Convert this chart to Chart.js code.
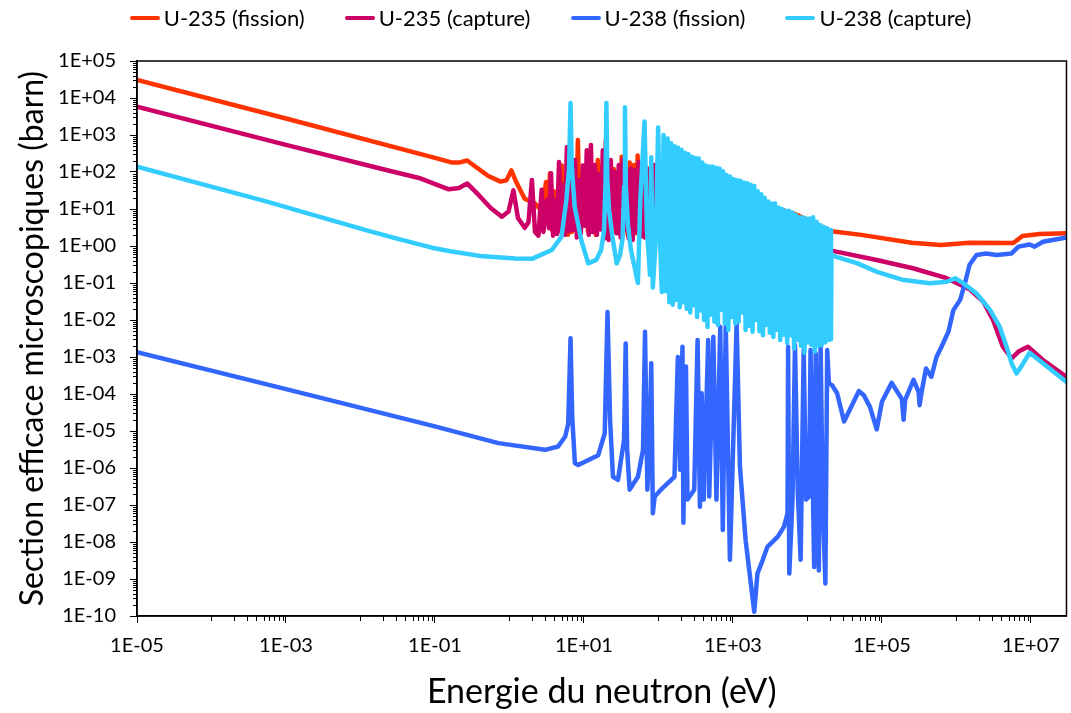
<!DOCTYPE html>
<html>
<head>
<meta charset="utf-8">
<script src="https://cdn.jsdelivr.net/npm/chart.js@4/dist/chart.umd.min.js"></script>
<style>
  html, body { margin: 0; padding: 0; background: #fff; }
  #wrap { position: relative; width: 1071px; height: 713px; }
  #legend {
    position: absolute; top: 6px; left: 0; width: 1071px; padding-left: 30px; box-sizing: border-box;
    display: flex; justify-content: center; gap: 40px;
    font-family: Lato, "Open Sans", sans-serif; font-size: 22px; color: #000; line-height: 24px;
  }
  .lg-item { display: flex; align-items: center; }
  .lg-swatch { width: 30px; height: 4px; border-radius: 2px; margin-right: 4px; }
</style>
</head>
<body>
<div id="wrap">
  <canvas id="chart" width="1071" height="713"></canvas>
  <div id="legend"></div>
</div>
<script>
// [energie (eV), section efficace (barn)]
const U235_FISSION = [
  [1e-5, 3.1e4], [1e-3, 2.8e3], [0.1, 240], [0.17, 180], [0.21, 180], [0.27, 205], [0.34, 145],
  [0.52, 78], [0.76, 55], [0.91, 60], [1.06, 110], [1.2, 60], [1.6, 19], [2.2, 14], [2.7, 8.8],
  [3.1, 54], [3.29, 6.9], [3.5, 93], [3.72, 2.7], [3.96, 30], [4.21, 3.1], [4.48, 17.5], [4.76, 2.5],
  [5.06, 150], [5.38, 3.1], [5.72, 33], [6.09, 2.0], [6.47, 83], [6.88, 2.4], [7.32, 110], [7.78, 2.7],
  [8.28, 730], [8.8, 2.7], [9.36, 90], [9.96, 3.7], [10.6, 155], [11.3, 2.5], [12.0, 200], [12.7, 3.1],
  [13.5, 113], [14.4, 2.0], [15.3, 210], [16.3, 3.1], [17.3, 140], [18.4, 2.7], [19.6, 730], [20.8, 2.7],
  [22.2, 155], [23.6, 3.7], [25.1, 120], [26.7, 2.4], [28.4, 83], [30.2, 3.1], [32.1, 260], [34.1, 2.6],
  [36.3, 113], [38.6, 2.0], [41.0, 180], [43.6, 2.7], [46.4, 155], [49.3, 2.2], [52.5, 280], [55.8, 3.7],
  [59.3, 140], [63.1, 3.1], [67.1, 113], [71.4, 2.7], [75.9, 125], [80.7, 3.5], [85.8, 150], [91.3, 2.7],
  [97.1, 100], [103, 3.7], [110, 120], [117, 3.3], [124, 83], [132, 4.5], [141, 70],
  [245, 45], [460, 54], [1150, 24], [2900, 12.8], [7300, 6.9], [2.1e4, 2.5], [5.3e4, 2.0],
  [2.5e5, 1.23], [6.2e5, 1.07], [1.5e6, 1.23], [5.8e6, 1.2], [7.7e6, 1.86], [1.3e7, 2.1], [3e7, 2.2]
];

const U235_CAPTURE = [
  [1e-5, 5.8e3], [1e-3, 540], [0.0178, 126], [0.061, 69], [0.153, 34], [0.21, 37], [0.27, 49],
  [0.385, 24], [0.56, 10.7], [0.79, 6.2], [0.97, 8.6], [1.13, 32], [1.3, 5.7], [1.6, 3.1], [1.8, 4.4],
  [2.0, 61], [2.2, 2.4], [2.45, 1.9], [2.7, 33], [2.85, 2.4],
  [3.19, 17.5], [3.39, 3.0], [3.61, 93], [3.84, 1.9], [4.08, 17.5], [4.34, 2.1], [4.62, 187], [4.91, 2.6],
  [5.22, 45], [5.55, 2.0], [5.90, 470], [6.28, 2.5], [6.68, 83], [7.10, 2.7], [7.55, 210], [8.03, 1.7],
  [8.54, 61], [9.08, 2.2], [9.66, 150], [10.3, 3.5], [10.9, 390], [11.6, 2.0], [12.4, 540], [13.1, 2.4],
  [14.0, 155], [14.9, 2.0], [15.8, 90], [16.8, 2.8], [17.9, 390], [19.0, 1.6], [20.2, 113], [21.5, 1.45],
  [22.9, 210], [24.3, 3.1], [25.9, 100], [27.5, 2.2], [29.3, 155], [31.1, 1.7], [33.1, 210], [35.2, 2.7],
  [37.4, 90], [39.8, 1.6], [42.3, 125], [45.0, 1.45], [47.9, 113], [50.9, 2.4], [54.2, 187], [57.6, 1.8],
  [61.3, 80], [65.1, 1.7], [69.3, 125], [73.7, 2.0], [78.3, 100], [83.3, 1.6], [88.6, 155], [94.2, 1.45],
  [100, 113], [107, 2.0], [113, 90], [121, 1.7], [128, 125], [137, 1.7],
  [340, 1.7], [1150, 1.28], [4000, 1.0], [2.1e4, 0.75], [8.5e4, 0.42], [2.6e5, 0.25], [7.4e5, 0.135],
  [1.5e6, 0.068], [2.3e6, 0.031], [3.1e6, 0.01], [4.2e6, 0.0019], [5.5e6, 9.1e-4], [6.8e6, 1.4e-3],
  [9.1e6, 1.9e-3], [1.45e7, 8.3e-4], [3e7, 2.9e-4]
];

const U238_FISSION = [
  [1e-5, 1.35e-3], [1e-3, 1.35e-4], [0.091, 1.4e-5], [0.71, 4.7e-6], [3.0, 3.1e-6], [4.5, 3.8e-6],
  [5.6, 7.1e-6], [6.15, 1.6e-5], [6.6, 3.2e-3], [6.95, 2.5e-5], [7.55, 1.35e-6], [8.4, 1.2e-6],
  [15.5, 2.2e-6], [19, 8.7e-6], [20.7, 0.0165], [22.4, 2e-5], [24.5, 5.8e-7], [28.6, 4.8e-7],
  [34.5, 5.7e-6], [36.3, 2.3e-3], [38, 3.1e-6], [41, 2.6e-7], [53, 5.8e-7], [62, 3.1e-6],
  [66, 4.8e-3], [71, 2.6e-7], [76, 5.7e-6], [80, 6.8e-4], [84, 6e-8], [89, 1.7e-7], [108, 2.6e-7],
  [164, 5.8e-7], [182, 1.0e-3], [195, 9e-7], [210, 1.9e-3], [216, 3.3e-8], [234, 5.5e-4],
  [245, 1.4e-7], [302, 2.6e-7], [335, 2.9e-3], [360, 9e-8], [380, 1.05e-4], [405, 1.4e-7],
  [465, 2.9e-3], [480, 1.7e-7], [545, 3.5e-3], [600, 1.4e-7], [675, 6.6e-3], [730, 2.1e-8],
  [800, 7.3e-3], [910, 3.3e-9], [1120, 8.1e-3], [1240, 1.1e-6], [1480, 1.1e-8], [1930, 1.3e-10],
  [2130, 1.4e-9], [2500, 3.2e-9], [2900, 7.4e-9], [4000, 1.4e-8], [4850, 2.6e-8], [5400, 6e-8],
  [5500, 1.9e-3], [5700, 1.4e-9], [6300, 1.4e-7], [6800, 2.1e-3], [7400, 2.6e-7], [8100, 3.3e-9],
  [8900, 1.55e-3], [9600, 1.4e-7], [10500, 1.7e-7], [11000, 1.55e-3], [12300, 2.1e-9],
  [12900, 1.26e-3], [14200, 1.7e-9], [15000, 2.3e-3], [16000, 1.4e-7], [17400, 7.6e-10],
  [18400, 1.55e-3], [19400, 1.95e-4], [21500, 1.7e-4], [25000, 1.05e-4], [31000, 1.8e-5],
  [49000, 1.2e-4], [57000, 9.3e-5], [69000, 4.5e-5], [85000, 1.1e-5], [1.0e5, 6.2e-5],
  [1.35e5, 2e-4], [1.85e5, 7.3e-5], [1.95e5, 2e-5], [2.05e5, 6.9e-5], [2.65e5, 2.4e-4],
  [3.1e5, 1.15e-4], [3.2e5, 5e-5], [3.4e5, 1.1e-4], [3.9e5, 4.9e-4], [4.6e5, 2.9e-4], [5.4e5, 1.0e-3],
  [6.3e5, 1.9e-3], [7.8e5, 4.8e-3], [9.1e5, 0.0185], [1.12e6, 0.035], [1.3e6, 0.098], [1.5e6, 0.31],
  [1.86e6, 0.57], [2.5e6, 0.63], [3.45e6, 0.57], [5.5e6, 0.63], [6.8e6, 0.96], [9.6e6, 1.1],
  [1.12e7, 0.96], [1.45e7, 1.3], [3e7, 1.7]
];

const U238_CAPTURE = [
  [1e-5, 140], [5.4e-4, 16], [0.0118, 2.7], [0.03, 1.6], [0.091, 0.9], [0.16, 0.72], [0.4, 0.54],
  [1.2, 0.46], [2.0, 0.45], [3.7, 0.78], [5.0, 1.8], [5.8, 17.5], [6.3, 120], [6.6, 7300], [6.85, 150],
  [7.5, 11.5], [9.2, 1.45], [11.4, 0.34], [14.6, 0.42], [17, 0.78], [18.6, 2.7], [19.5, 60], [20, 7300],
  [20.6, 60], [21.7, 9.4], [24, 1.86], [27.5, 0.34], [30.5, 0.57], [33, 1.6], [34.6, 40], [35.5, 5600],
  [36.5, 40], [39, 3.7], [42.7, 0.78], [53, 0.1], [57, 17.5], [65, 2300], [70, 2.7], [77, 0.165],
  [80, 250], [84, 0.075], [92, 1.45], [99, 1600], [106, 0.78], [111, 0.057], [117, 1000],
  [126, 0.06], [133, 800], [140, 0.03], [148, 600], [156, 0.026], [165, 500], [174, 0.035], [183, 450],
  [193, 0.022], [204, 400], [215, 0.03], [227, 330], [240, 0.02], [253, 300], [267, 0.016], [281, 260],
  [297, 0.025], [313, 240], [330, 0.012], [348, 230], [368, 0.018], [388, 180], [409, 0.01], [432, 150],
  [455, 0.0065], [480, 140], [507, 0.014], [535, 140], [564, 0.009], [595, 130], [628, 0.0073], [662, 125],
  [699, 0.019], [737, 105], [778, 0.008], [820, 83], [866, 0.0054], [913, 75], [963, 0.012], [1016, 65],
  [1072, 0.008], [1131, 60], [1193, 0.009], [1259, 58], [1328, 0.016], [1401, 52], [1478, 0.0054],
  [1560, 50], [1645, 0.007], [1736, 45], [1831, 0.0048], [1932, 42], [2038, 0.01], [2150, 30],
  [2269, 0.005], [2393, 25], [2525, 0.0039], [2664, 20], [2810, 0.0073], [2965, 16], [3128, 0.0045],
  [3300, 14], [3481, 0.0035], [3673, 14], [3875, 0.0054], [4088, 11], [4313, 0.0029], [4550, 10],
  [4800, 0.004], [5064, 9], [5342, 0.0024], [5636, 9], [5946, 0.0039], [6273, 8], [6618, 0.0017],
  [6982, 7], [7366, 0.0029], [7771, 6], [8198, 0.002], [8649, 6.0], [9125, 0.0013], [9627, 5.5],
  [10156, 0.0025], [10715, 5.5], [11304, 0.0021], [11926, 6], [12582, 0.0014], [13274, 4.5],
  [14004, 0.002], [14774, 3.7], [15587, 0.0021], [16444, 3.3], [17349, 0.0025], [18303, 3],
  [19310, 0.0029], [20372, 2.7], [20700, 0.003],
  [2.1e4, 0.57], [2.5e4, 0.5], [4.7e4, 0.34], [8.6e4, 0.2], [1.95e5, 0.12], [4.4e5, 0.098],
  [7.4e5, 0.108], [9.6e5, 0.134], [1.24e6, 0.098], [1.86e6, 0.052], [2.8e6, 0.019],
  [3.8e6, 0.0066], [4.7e6, 0.0019], [5.5e6, 6.8e-4], [6.4e6, 3.6e-4], [7.4e6, 5.5e-4],
  [9.6e6, 1.3e-3], [1.45e7, 6.8e-4], [3e7, 2.1e-4]
];

// Axis ticks
const X_TICKS = [1e-5, 1e-3, 1e-1, 1e1, 1e3, 1e5, 1e7];
const X_TICK_LABELS = ['1E-05', '1E-03', '1E-01', '1E+01', '1E+03', '1E+05', '1E+07'];
const Y_TICKS = [1e-10, 1e-9, 1e-8, 1e-7, 1e-6, 1e-5, 1e-4, 1e-3, 1e-2, 1e-1, 1e0, 1e1, 1e2, 1e3, 1e4, 1e5];
const Y_TICK_LABELS = ['1E-10', '1E-09', '1E-08', '1E-07', '1E-06', '1E-05', '1E-04', '1E-03',
  '1E-02', '1E-01', '1E+00', '1E+01', '1E+02', '1E+03', '1E+04', '1E+05'];

const FONT = 'Lato, "Open Sans", sans-serif';

function toPoints(rows) {
    return rows.map(([e, s]) => ({ x: e, y: s }));
}

function series(label, rows, color, order) {
    return {
        label: label,
        data: toPoints(rows),
        borderColor: color,
        backgroundColor: color,
        borderWidth: 4.5,
        borderJoinStyle: 'round',
        borderCapStyle: 'round',
        pointRadius: 0,
        pointHoverRadius: 0,
        tension: 0,
        fill: false,
        order: order
    };
}

// Frame around the plot + minor ticks (Excel style)
const frameAndMinorTicks = {
    id: 'frameAndMinorTicks',
    afterDraw(chart) {
        const { ctx, chartArea: a, scales: { x, y } } = chart;
        ctx.save();
        ctx.strokeStyle = '#000';
        ctx.lineWidth = 1.5;
        ctx.strokeRect(a.left, a.top, a.right - a.left, a.bottom - a.top);

        ctx.lineWidth = 1;
        ctx.beginPath();
        // x: log base 100, minor ticks in the decade after each major tick
        for (let p = -4; p <= 8; p += 2) {
            for (let k = 1; k <= 9; k++) {
                const v = k * Math.pow(10, p);
                if (v > x.max) break;
                const px = Math.round(x.getPixelForValue(v)) + 0.5;
                ctx.moveTo(px, a.bottom);
                ctx.lineTo(px, a.bottom + 5);
            }
        }
        // y: 2..9 in every decade
        for (let p = -10; p < 5; p++) {
            for (let k = 2; k <= 9; k++) {
                const py = Math.round(y.getPixelForValue(k * Math.pow(10, p))) + 0.5;
                ctx.moveTo(a.left, py);
                ctx.lineTo(a.left - 4, py);
            }
        }
        ctx.stroke();
        ctx.restore();
    }
};

// Legend as real HTML text
const htmlLegend = {
    id: 'htmlLegend',
    afterUpdate(chart) {
        const box = document.getElementById('legend');
        box.innerHTML = '';
        chart.data.datasets.forEach(ds => {
            const item = document.createElement('div');
            item.className = 'lg-item';
            const sw = document.createElement('span');
            sw.className = 'lg-swatch';
            sw.style.background = ds.borderColor;
            const txt = document.createElement('span');
            txt.textContent = ds.label;
            item.append(sw, txt);
            box.appendChild(item);
        });
    }
};

const ctx = document.getElementById('chart').getContext('2d');
new Chart(ctx, {
    type: 'line',
    data: {
        datasets: [
            series('U-235 (fission)', U235_FISSION, '#FF3300', 4),
            series('U-235 (capture)', U235_CAPTURE, '#CC0066', 3),
            series('U-238 (fission)', U238_FISSION, '#3366FF', 2),
            series('U-238 (capture)', U238_CAPTURE, '#33CCFF', 1)
        ]
    },
    options: {
        responsive: false,
        animation: false,
        devicePixelRatio: 1,
        layout: { padding: { top: 61, right: 2, left: 0, bottom: 0 } },
        plugins: {
            legend: { display: false },
            tooltip: { enabled: false }
        },
        scales: {
            x: {
                type: 'logarithmic',
                min: 1e-5,
                max: 3e7,
                afterBuildTicks: scale => { scale.ticks = X_TICKS.map(v => ({ value: v })); },
                afterFit: scale => { scale.height = 97; },
                ticks: {
                    autoSkip: false,
                    maxRotation: 0,
                    padding: 11,
                    color: '#000',
                    font: { family: FONT, size: 20 },
                    callback: (v, i) => X_TICK_LABELS[i]
                },
                grid: { drawOnChartArea: false, drawTicks: true, tickLength: 7, tickColor: '#000', tickWidth: 1 },
                border: { display: true, color: '#000', width: 1.5 },
                title: {
                    display: true,
                    text: 'Energie du neutron (eV)',
                    color: '#000',
                    font: { family: FONT, size: 34 },
                    padding: { top: 0, bottom: 1 }
                }
            },
            y: {
                type: 'logarithmic',
                min: 1e-10,
                max: 1e5,
                afterBuildTicks: scale => { scale.ticks = Y_TICKS.map(v => ({ value: v })); },
                afterFit: scale => { scale.width = 137; },
                ticks: {
                    autoSkip: false,
                    padding: 14,
                    color: '#000',
                    font: { family: FONT, size: 20 },
                    callback: (v, i) => Y_TICK_LABELS[i]
                },
                grid: { drawOnChartArea: false, drawTicks: true, tickLength: 7, tickColor: '#000', tickWidth: 1 },
                border: { display: true, color: '#000', width: 1.5 },
                title: {
                    display: true,
                    text: 'Section efficace microscopiques (barn)',
                    color: '#000',
                    font: { family: FONT, size: 32 },
                    padding: { top: 13, bottom: 0 }
                }
            }
        }
    },
    plugins: [frameAndMinorTicks, htmlLegend]
});
</script>
</body>
</html>
